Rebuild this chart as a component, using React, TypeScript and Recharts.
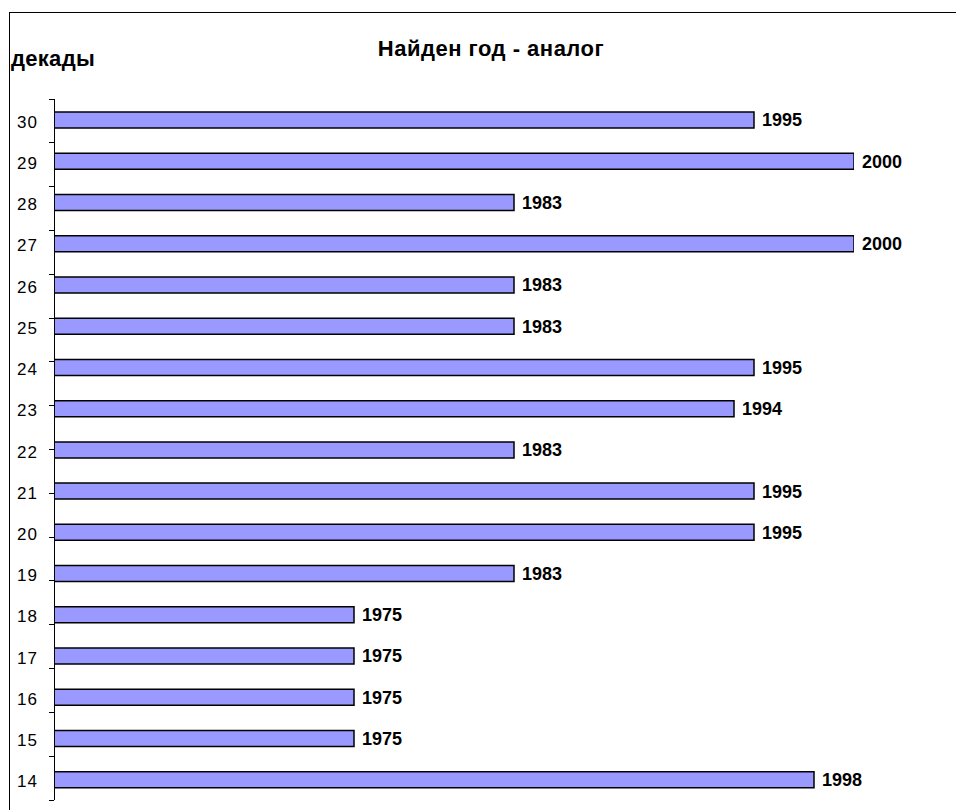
import { BarChart, Bar, XAxis, YAxis, LabelList } from "recharts";

const decades = ["30", "29", "28", "27", "26", "25", "24", "23", "22", "21", "20", "19", "18", "17", "16", "15", "14"];
const years = [1995, 2000, 1983, 2000, 1983, 1983, 1995, 1994, 1983, 1995, 1995, 1983, 1975, 1975, 1975, 1975, 1998];
const boundaryTicks = [0, 1, 2, 3, 4, 5, 6, 7, 8, 9, 10, 11, 12, 13, 14, 15, 16, 17];

const data = decades.map((d, i) => ({ decade: d, year: years[i] }));

const font = '"Liberation Sans", Arial, sans-serif';

const App = () => {
  return (
    <div style={{ position: "absolute", left: 0, top: 0, width: 956, height: 810, background: "#fff", overflow: "hidden", fontFamily: font }}>
      <div style={{ position: "absolute", left: 9, top: 12, width: 1000, height: 1000, borderLeft: "1px solid #000", borderTop: "1px solid #000" }} />
      <div style={{ position: "absolute", left: 0, top: 36, width: 982, textAlign: "center", fontWeight: "bold", fontSize: 22, letterSpacing: 0.5, lineHeight: "normal" }}>
        Найден год - аналог
      </div>
      <div style={{ position: "absolute", left: 11, top: 46, fontWeight: "bold", fontSize: 22, letterSpacing: 0.3, lineHeight: "normal" }}>декады</div>
      <BarChart
        width={956}
        height={810}
        data={data}
        layout="vertical"
        margin={{ top: 99, right: 102, left: 0, bottom: 10 }}
        barSize={16}
      >
        <XAxis type="number" dataKey="year" domain={[1960, 2000]} allowDataOverflow hide />
        <YAxis
          yAxisId="a"
          type="number"
          domain={[0, 17]}
          ticks={boundaryTicks}
          allowDataOverflow
          width={1}
          tick={{ fill: "transparent", fontSize: 1 }}
          tickSize={5}
          axisLine={{ stroke: "#000", shapeRendering: "crispEdges" }}
          tickLine={{ stroke: "#000", shapeRendering: "crispEdges" }}
        />
        <YAxis
          yAxisId="b"
          type="category"
          dataKey="decade"
          width={53}
          axisLine={false}
          tickLine={false}
          tickSize={0}
          tickMargin={15}
          tick={{ fill: "#000", fontSize: 17, fontFamily: font, letterSpacing: 1, dy: 2 }}
        />
        <Bar yAxisId="b" dataKey="year" fill="#9999ff" stroke="#000" strokeWidth={1.5} isAnimationActive={false}>
          <LabelList dataKey="year" position="right" offset={8} fill="#000" fontSize={18} fontWeight="bold" fontFamily={font} />
        </Bar>
      </BarChart>
    </div>
  );
};

export default App;
